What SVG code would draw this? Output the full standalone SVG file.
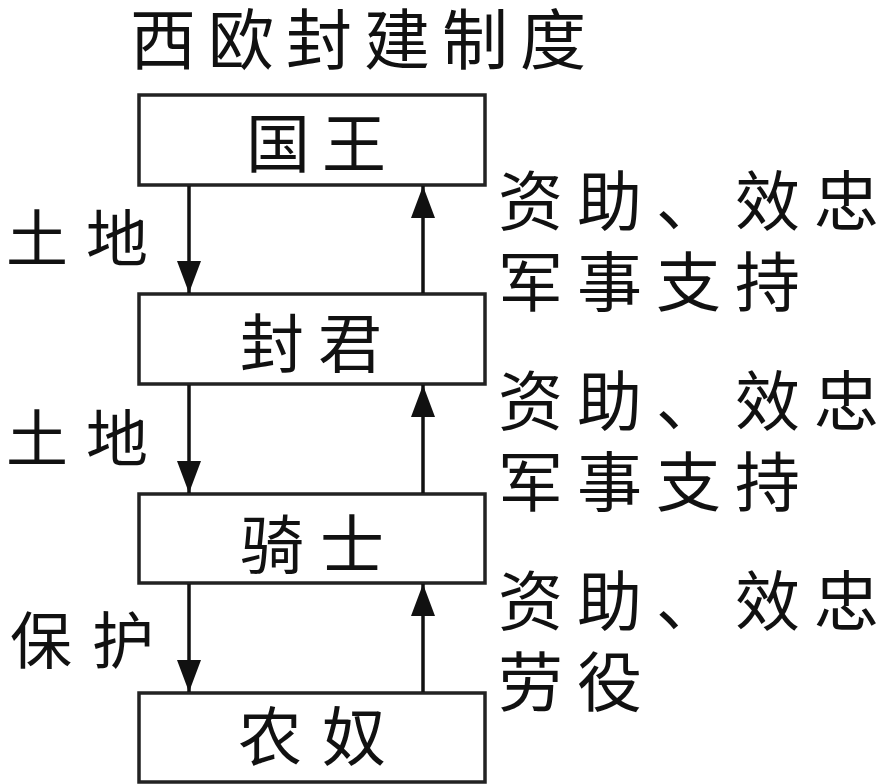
<svg xmlns="http://www.w3.org/2000/svg" width="881" height="784" viewBox="0 0 881 784">
<style>
  text { font-family: "Noto Sans CJK SC", "Noto Sans CJK TC", sans-serif; fill: #111; }
  .title { font-size: 66px; }
  .box rect { fill: #fff; stroke: #222; stroke-width: 3.5; }
  .box text { font-size: 64px; }
  .lbl { font-size: 62px; }
  .rl { font-size: 65px; }
  .conn line { stroke: #111; stroke-width: 3.5; }
</style>
<defs>
  <marker id="ah" viewBox="0 0 32 24" refX="32" refY="12" markerWidth="32" markerHeight="24" markerUnits="userSpaceOnUse" orient="auto">
    <path d="M0,0 L32,12 L0,24 Z" fill="#111"/>
  </marker>
</defs>
<rect width="881" height="784" fill="#fff"/>
<text class="title" x="130 208 286 364 442 520" y="64">西欧封建制度</text>

<g id="king" class="box"><rect x="139" y="95" width="346" height="90"/><text x="246 322" y="167">国王</text></g>
<g id="lord" class="box"><rect x="139" y="294" width="346" height="90"/><text x="240 318" y="367">封君</text></g>
<g id="knight" class="box"><rect x="139" y="494" width="346" height="89"/><text x="240 320" y="568">骑士</text></g>
<g id="serf" class="box"><rect x="139" y="693" width="346" height="89"/><text x="238 322" y="760">农奴</text></g>

<g id="connectors" class="conn">
  <line x1="189" y1="186" x2="189" y2="293" marker-end="url(#ah)"/>
  <line x1="423" y1="293" x2="423" y2="186" marker-end="url(#ah)"/>
  <line x1="189" y1="385" x2="189" y2="493" marker-end="url(#ah)"/>
  <line x1="423" y1="493" x2="423" y2="385" marker-end="url(#ah)"/>
  <line x1="189" y1="584" x2="189" y2="692" marker-end="url(#ah)"/>
  <line x1="423" y1="692" x2="423" y2="584" marker-end="url(#ah)"/>
</g>

<g id="labels">
  <text class="lbl" x="6 86" y="262">土地</text>
  <text class="lbl" x="6 86" y="462">土地</text>
  <text class="lbl" x="10 92" y="664">保护</text>
  <text class="rl" x="498 577 656 735 814" y="225">资助、效忠</text>
  <text class="rl" x="498 577 656 735" y="306">军事支持</text>
  <text class="rl" x="498 577 656 735 814" y="425">资助、效忠</text>
  <text class="rl" x="498 577 656 735" y="506">军事支持</text>
  <text class="rl" x="498 577 656 735 814" y="625">资助、效忠</text>
  <text class="rl" x="498 577" y="706">劳役</text>
</g>
</svg>
